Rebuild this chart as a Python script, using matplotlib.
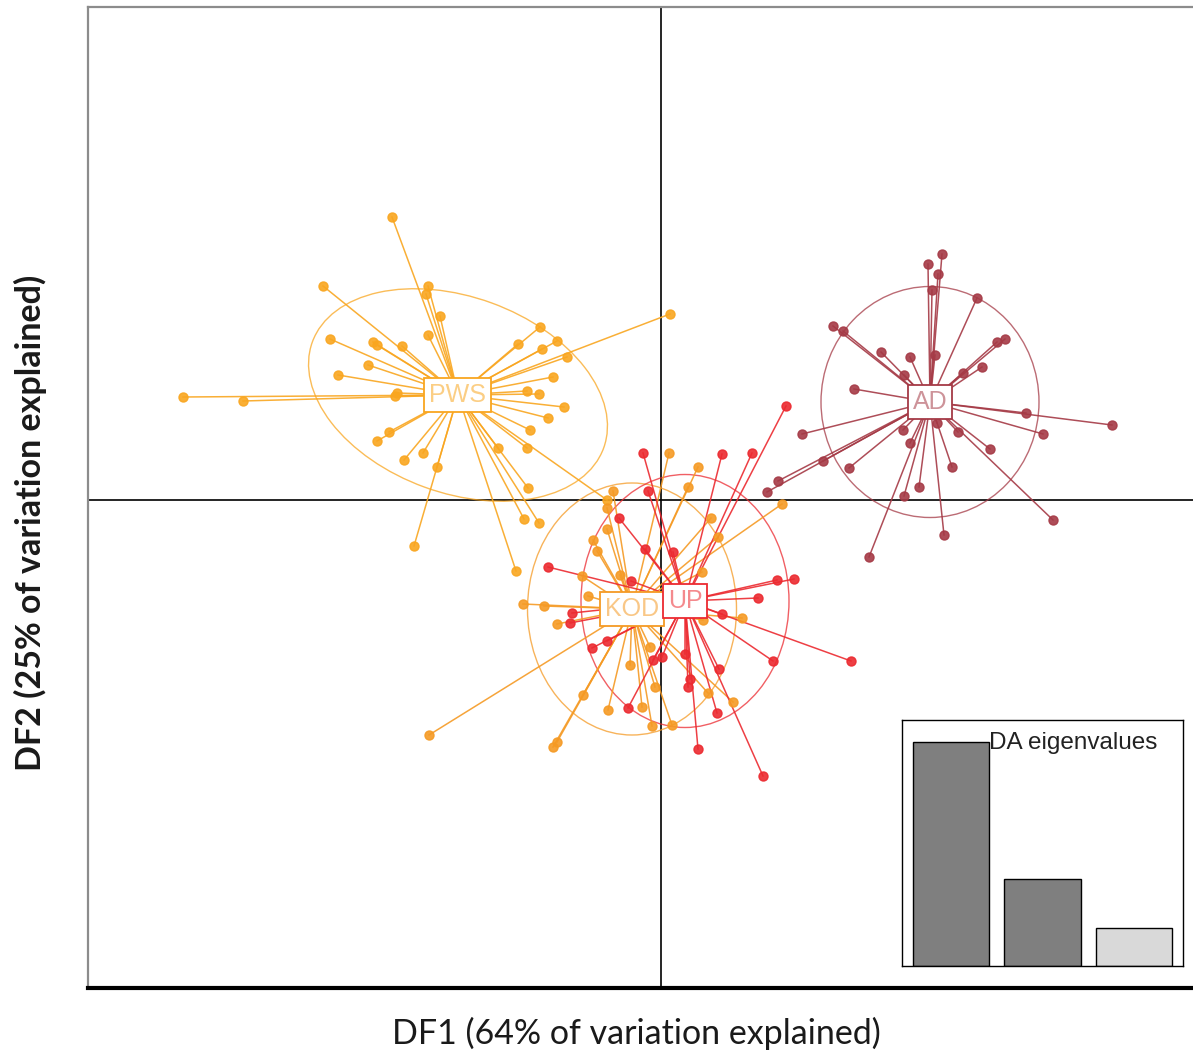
import matplotlib.pyplot as plt
from matplotlib.patches import Ellipse
import numpy as np

# DAPC scatter: group centroids, individual scores, inertia ellipses
GROUPS = ["PWS", "KOD", "UP", "AD"]
GROUP_COLORS = {"PWS": "#F9A620", "KOD": "#F59A24", "UP": "#EC2A30", "AD": "#A53A46"}

CENTERS = {
    "PWS": (-2.03, 1.05),
    "KOD": (-0.29, -1.09),
    "UP": (0.24, -1.01),
    "AD": (2.69, 0.98),
}

PWS_X = [-2.69, -3.38, -2.33, -2.35, -2.21, -2.33, -3.31, -2.88, -2.84, -2.59,
         -2.93, -3.23, -4.78, -4.18, -2.64, -2.66, -1.34, -1.22, -1.08, -0.94,
         -1.19, -1.04, -1.21, -1.43, -0.97, -1.13, -1.31, -1.34, -1.63, -2.84,
         -2.72, -2.57, -2.38, -2.24, 0.09, -1.33, -2.47, -1.45, -1.37, -1.22,
         -0.54]
PWS_Y = [2.83, 2.14, 2.14, 2.06, 1.84, 1.65, 1.61, 1.58, 1.55, 1.54,
         1.35, 1.25, 1.03, 0.99, 1.07, 1.04, 1.09, 1.06, 1.23, 1.43,
         1.51, 1.59, 1.73, 1.56, 0.93, 0.82, 0.70, 0.52, 0.52, 0.59,
         0.68, 0.40, 0.47, 0.33, 1.86, 0.12, -0.46, -0.71, -0.19, -0.23,
         0.00]

KOD_X = [0.08, 0.37, 0.27, -0.48, -0.54, 1.21, 0.50, -0.54, 0.57, -0.68,
         -0.64, -0.41, 0.41, -0.79, -0.73, -1.38, -1.17, -1.04, 0.81, 0.42,
         -0.11, -0.31, -0.06, 0.47, -0.78, 0.72, -0.53, -0.19, -0.09, 0.11,
         -2.32, -1.04, -1.08]
KOD_Y = [0.47, 0.33, 0.13, 0.09, -0.08, -0.04, -0.18, -0.29, -0.37, -0.40,
         -0.51, -0.75, -0.72, -0.76, -0.96, -1.04, -1.06, -1.24, -1.18, -1.20,
         -1.47, -1.65, -1.87, -1.93, -1.95, -2.02, -2.10, -2.07, -2.26, -2.25,
         -2.35, -2.42, -2.47]

UP_X = [-0.18, 0.61, 0.91, 1.25, -0.13, -0.42, -0.16, 0.12, -1.13, -0.30,
        1.16, 1.33, 0.97, -0.89, -0.91, 0.61, -0.69, -0.54, 0.01, -0.08,
        0.24, 0.58, 1.12, 1.90, 0.29, 0.27, -0.33, 0.56, 0.37, 1.02]
UP_Y = [0.47, 0.46, 0.47, 0.94, 0.09, -0.18, -0.49, -0.52, -0.67, -0.81,
        -0.80, -0.79, -0.98, -1.13, -1.23, -1.14, -1.48, -1.41, -1.57, -1.60,
        -1.54, -1.69, -1.61, -1.61, -1.79, -1.87, -2.08, -2.13, -2.49, -2.76]

AD_X = [2.81, 2.67, 2.77, 2.71, 3.16, 1.72, 1.82, 2.20, 2.49, 2.74,
        3.36, 3.44, 3.21, 3.02, 2.43, 1.93, 3.65, 4.51, 3.82, 1.41,
        2.42, 2.97, 2.49, 2.76, 3.29, 1.62, 1.88, 2.91, 2.58, 2.43,
        3.92, 2.83, 2.08, 1.17, 1.06]
AD_Y = [2.46, 2.36, 2.26, 2.10, 2.02, 1.74, 1.69, 1.48, 1.43, 1.45,
        1.58, 1.61, 1.33, 1.27, 1.25, 1.11, 0.87, 0.75, 0.66, 0.66,
        0.70, 0.68, 0.57, 0.77, 0.51, 0.39, 0.32, 0.33, 0.13, 0.04,
        -0.20, -0.35, -0.57, 0.19, 0.08]

SCORES = {
    "PWS": (PWS_X, PWS_Y),
    "KOD": (KOD_X, KOD_Y),
    "UP": (UP_X, UP_Y),
    "AD": (AD_X, AD_Y),
}

# ellipse width, height, angle (deg)
ELLIPSES = {
    "PWS": (3.10, 1.96, -20),
    "KOD": (2.09, 2.52, 0),
    "UP": (2.08, 2.53, 0),
    "AD": (2.18, 2.31, 0),
}

EIGENVALUES = [64, 25, 11]
EIG_COLORS = ["#7F7F7F", "#7F7F7F", "#D9D9D9"]

W, H = 1193, 1051
fig = plt.figure(figsize=(W / 100, H / 100), dpi=100)
ax = fig.add_axes([88 / W, 1 - 988 / H, (1210 - 88) / W, (988 - 7) / H])
ax.set_xlim(-5.73, 5.49)
ax.set_ylim(-4.88, 4.93)

ax.axvline(0, color="black", lw=1.2, zorder=1)
ax.axhline(0, color="black", lw=1.2, zorder=1)

for g in GROUPS:
    col = GROUP_COLORS[g]
    cx, cy = CENTERS[g]
    xs, ys = SCORES[g]
    w, h, ang = ELLIPSES[g]
    ax.add_patch(Ellipse((cx, cy), w, h, angle=ang, fill=False,
                         edgecolor=col, lw=1.0, alpha=0.75, zorder=2))
    for x, y in zip(xs, ys):
        ax.plot([cx, x], [cy, y], color=col, lw=1.1, alpha=0.9, zorder=3)
    ax.plot(xs, ys, "o", color=col, ms=6.5, mec=col, alpha=0.9, zorder=4)

for g in GROUPS:
    col = GROUP_COLORS[g]
    cx, cy = CENTERS[g]
    ax.text(cx, cy, g, ha="center", va="center", fontsize=18,
            family="Liberation Sans", color=col, alpha=0.55, zorder=6,
            bbox=dict(boxstyle="square,pad=0.2", fc="white", ec=col, lw=1.3))

ax.set_xticks([])
ax.set_yticks([])
for side in ("left", "top"):
    ax.spines[side].set_color("#8C8C8C")
    ax.spines[side].set_linewidth(1.6)
ax.spines["bottom"].set_color("black")
ax.spines["bottom"].set_linewidth(3)
ax.spines["right"].set_visible(False)

fig.text(636 / W, 1 - 1033 / H, "DF1 (64% of variation explained)",
         ha="center", va="center", fontsize=24.5, family="Lato", color="#1a1a1a")
fig.text(30 / W, 1 - 523 / H, "DF2 (25% of variation explained)",
         ha="center", va="center", rotation=90, fontsize=24.5, family="Lato",
         fontweight="bold", color="#1a1a1a")

# eigenvalue inset
ins = fig.add_axes([902 / W, 1 - 966 / H, 281 / W, 246 / H])
ins.bar(range(len(EIGENVALUES)), EIGENVALUES, width=0.83, color=EIG_COLORS,
        edgecolor="black", lw=1.0)
ins.set_xlim(-0.53, 2.53)
ins.set_ylim(0, 70.3)
ins.set_xticks([])
ins.set_yticks([])
for s in ins.spines.values():
    s.set_linewidth(1.0)
ins.text(0.31, 0.95, "DA eigenvalues", transform=ins.transAxes, ha="left",
         va="top", fontsize=17.5, family="Liberation Sans", color="#222222")

fig.savefig("out.png", dpi=100)
